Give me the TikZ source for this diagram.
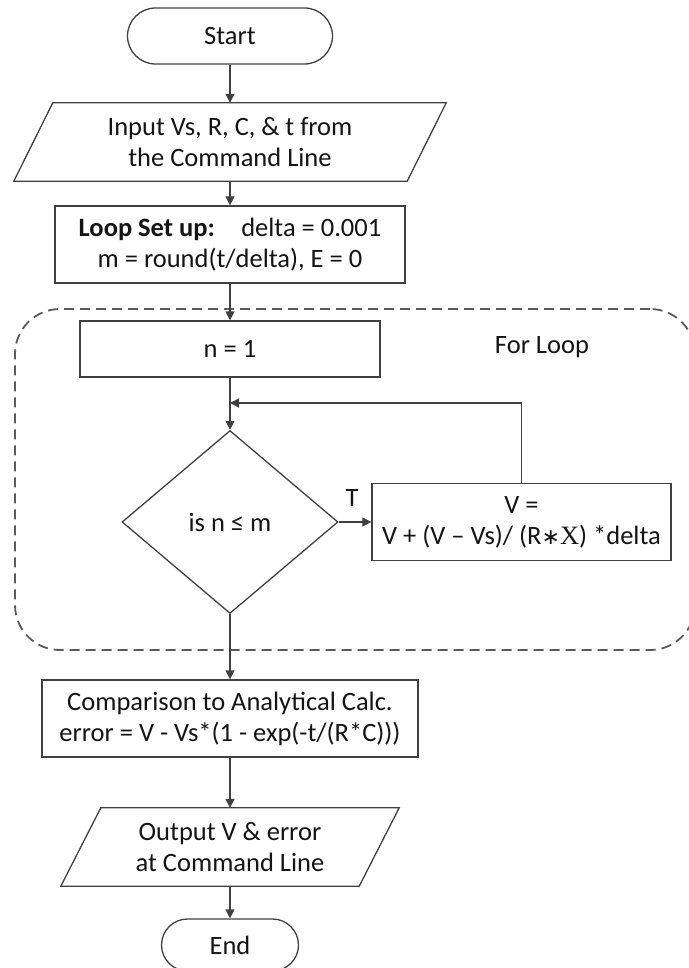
\documentclass[tikz,border=0pt]{standalone}
\usepackage{fontspec}
\setmainfont{Carlito}
\newfontfamily\serifx{Liberation Serif}
\newfontfamily\symf{DejaVu Sans}
\usetikzlibrary{shapes.geometric,arrows.meta}
\definecolor{linegray}{HTML}{404040}
\definecolor{dashgray}{HTML}{5A5A5A}
\definecolor{textcol}{HTML}{141414}
\newcommand\myfs{\fontsize{26.5}{31}\selectfont}
\begin{document}
\begin{tikzpicture}[x=1pt,y=-1pt,
  box/.style={rectangle, draw=linegray, line width=1.3pt, inner sep=0pt, align=center, text=textcol, font=\myfs},
  plain/.style={rectangle, draw=none, inner sep=0pt, align=center, text=textcol, font=\myfs},
  term/.style={rectangle, draw=linegray, line width=1.3pt, inner sep=0pt, align=center, text=textcol, font=\myfs},
  dia/.style={diamond, draw=linegray, line width=1.3pt, inner sep=0pt, align=center, text=textcol, font=\myfs},
  txt/.style={inner sep=0pt, text=textcol, font=\myfs},
  para/.style={draw=linegray, line width=1.3pt, line join=miter},
  arr/.style={draw=linegray, line width=1.3pt, -{Triangle[length=9pt,width=9pt]}},
  loopbox/.style={rectangle, draw=dashgray, line width=1.8pt, dash pattern=on 10pt off 6pt, rounded corners=45pt, inner sep=0pt}
]
\useasboundingbox (0,0) rectangle (688,968);

% dashed loop frame
\node[loopbox, minimum width=680pt, minimum height=341pt] (loop) at (355,479.5) {};

\node[term, rounded corners=28pt, minimum width=205pt, minimum height=56pt] (start) at (230,36) {Start};

\node[plain, minimum width=393pt, minimum height=78pt] (in) at (230,142) {Input Vs, R, C, \& t from\\the Command Line};
\draw[para] ([xshift=19.5pt]in.north west) -- ([xshift=19.5pt]in.north east) -- ([xshift=-19.5pt]in.south east) -- ([xshift=-19.5pt]in.south west) -- cycle;

\node[box, minimum width=350pt, minimum height=77pt] (setup) at (230,244.5) {\textbf{Loop Set up:}\quad delta = 0.001\\m = round(t/delta), E = 0};

\node[box, minimum width=300pt, minimum height=56pt] (n1) at (230,349) {n = 1};
\node[txt] (forloop) at (542,347) {For Loop};

\node[dia, minimum width=216pt, minimum height=183pt] (dec) at (230,522) {is n ≤ m};
\node[box, minimum width=299pt, minimum height=77pt] (upd) at (521.5,522) {V =\\V + (V – Vs)/ (R{\symf\fontsize{22}{31}\selectfont ∗}{\serifx X}) *delta};
\node[txt] (tlab) at (352,498) {T};
\coordinate (join) at (230,403);

\node[box, minimum width=376pt, minimum height=77pt] (cmp) at (230,718.5) {Comparison to Analytical Calc.\\error = V - Vs*(1 - exp(-t/(R*C)))};

\node[plain, minimum width=298pt, minimum height=78pt] (out) at (230,847) {Output V \& error\\at Command Line};
\draw[para] ([xshift=20pt]out.north west) -- ([xshift=20pt]out.north east) -- ([xshift=-20pt]out.south east) -- ([xshift=-20pt]out.south west) -- cycle;

\node[term, rounded corners=26pt, minimum width=137pt, minimum height=52pt] (end) at (230,945) {End};

% connectors
\draw[arr] (start.south) -- (in.north);
\draw[arr] (in.south) -- (setup.north);
\draw[arr] (setup.south) -- (n1.north);
\draw[arr] (n1.south) -- (dec.north);
\draw[arr] (dec.east) -- (upd.west);
\draw[arr] (upd.north) |- (join);
\draw[arr] (dec.south) -- (cmp.north);
\draw[arr] (cmp.south) -- (out.north);
\draw[arr] (out.south) -- (end.north);
\end{tikzpicture}
\end{document}
